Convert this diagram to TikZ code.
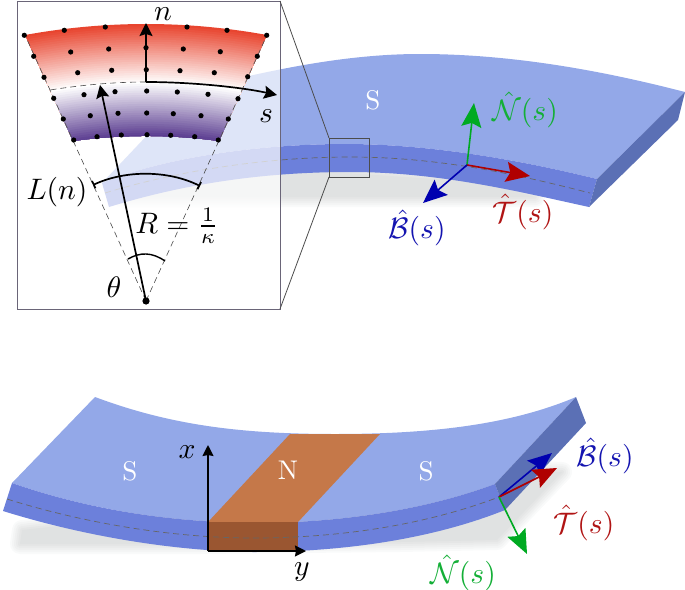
\documentclass[tikz,border=0pt]{standalone}
\usepackage{amsmath, amssymb}
\usepackage{tikz}
\usepackage{xcolor}
\usetikzlibrary{arrows.meta,calc}
\definecolor{topblue}{RGB}{147,168,232}
\definecolor{frontblue}{RGB}{108,128,219}
\definecolor{sideblue}{RGB}{91,112,181}
\definecolor{orangetop}{RGB}{197,120,73}
\definecolor{orangefront}{RGB}{154,86,49}
\definecolor{shadowgray}{RGB}{224,226,226}
\definecolor{wedgered}{RGB}{232,69,47}
\definecolor{wedgepurple}{RGB}{90,60,144}
\definecolor{framegray}{RGB}{106,101,120}
\definecolor{frameN}{RGB}{0,170,34}
\definecolor{frameT}{RGB}{176,0,0}
\definecolor{frameB}{RGB}{0,0,176}
\definecolor{labelN}{RGB}{20,175,55}
\definecolor{labelT}{RGB}{176,20,20}
\definecolor{labelB}{RGB}{20,20,176}
\tikzset{
  lab/.style={scale=1.48,inner sep=0pt},
  strip label/.style={text=white,scale=1.35,inner sep=0pt},
  black arrow/.style={line width=0.85pt,-{Stealth[length=6.5pt,width=6.5pt,inset=1pt]}},
  axis arrow/.style={line width=0.85pt,-{Stealth[length=5.5pt,width=5.5pt,inset=0.5pt]}},
  frame arrow/.style={line width=0.8pt,-{Stealth[length=12pt,width=10pt,inset=2pt]}},
  thin dash/.style={densely dashed,line width=0.3pt,draw=black!70},
  zoom line/.style={line width=0.4pt,draw=black!70},
  mid dash/.style={densely dashed,line width=0.35pt,draw=black!60},
}
% one slice of the wedge, from the arc at height #1 down to the lowest arc
\newcommand{\wedgeslice}[2]{%
  \pgfmathsetmacro{\lx}{25+48*#1}
  \pgfmathsetmacro{\ly}{35+106*#1}
  \pgfmathsetmacro{\cx}{\lx+2/3*(146-\lx)}
  \pgfmathsetmacro{\cy}{\ly+4/3*(-11+5*#1)}
  \fill[#2] (\lx,\ly) .. controls (\cx,\cy) and (292-\cx,\cy) .. (292-\lx,\ly)
    -- (219,141) .. controls (170.3,134.3) and (121.7,134.3) .. (73,141) -- cycle;
}
\begin{document}
\begin{tikzpicture}[x=0.5pt,y=-0.5pt]
  \useasboundingbox (0,0) rectangle (685,589);

  % Upper strip: shadow
  \foreach \w/\c in {10/18,8/35,6/52,4/68,2/85}
    \filldraw[shadowgray!\c!white,line width=\w pt,line join=round]
      (122,194) -- (122,197) -- (535,197) -- (480,182) -- (300,170) -- cycle;
  \fill[shadowgray] (122,194) -- (122,197) -- (535,197) -- (480,182) -- (300,170) -- cycle;

  % Upper strip: surfaces
  \fill[topblue] (102,183) -- (190,90) .. controls (270,70) and (345,54) .. (420,54)
    .. controls (510,54) and (600,70) .. (685,92) -- (597,179)
    .. controls (520,160) and (430,144) .. (345,144) .. controls (270,144) and (170,155) .. (102,183) -- cycle;
  \fill[frontblue] (102,183) .. controls (170,155) and (270,144) .. (345,144)
    .. controls (430,144) and (520,160) .. (597,179) -- (589,207)
    .. controls (520,192) and (440,172) .. (350,172) .. controls (270,172) and (190,182) .. (109,207) -- cycle;
  \fill[sideblue] (597,179) -- (685,92) -- (678,120) -- (589,207) -- cycle;
  \draw[mid dash] (105,193) .. controls (180,170) and (270,157) .. (350,157) .. controls (440,157) and (520,175) .. (590,193);

  % Zoomed box
  \coordinate (boxTL) at (329,138);
  \coordinate (boxBL) at (329,177);
  \coordinate (insetTR) at (280,1);
  \coordinate (insetBR) at (280,309);
  \fill[white,opacity=0.7] (17,1) rectangle (280,309);
  \draw[line width=0.5pt,draw=framegray] (17,1) rectangle (280,309);
  \draw[line width=0.5pt,draw=black!70] (boxTL) rectangle (369,177);
  \draw[zoom line] (insetTR) -- (boxTL);
  \draw[zoom line] (insetBR) -- (boxBL);

  % Wedge: red part, then purple part
  \foreach \i in {0,...,26}{
    \pgfmathsetmacro{\u}{\i/50}
    \pgfmathsetmacro{\p}{100*(1-\i/26)}
    \wedgeslice{\u}{wedgered!\p!white}
  }
  \foreach \i in {27,...,50}{
    \pgfmathsetmacro{\u}{\i/50}
    \pgfmathsetmacro{\p}{100*(\i-26)/24}
    \wedgeslice{\u}{wedgepurple!\p!white}
  }

  % Wedge: construction lines
  \coordinate (center) at (146,301);
  \coordinate (cornerL) at (25,35);
  \coordinate (cornerR) at (267,35);
  \coordinate (midC) at (146,82);
  \coordinate (midL) at (50,90);
  \coordinate (nTip) at (146,23);
  \coordinate (sTip) at (277,95);
  \coordinate (rTip) at (100,85);
  \draw[thin dash] (center) -- (cornerL);
  \draw[thin dash] (center) -- (cornerR);
  \draw[thin dash] (midC) .. controls (114,82) and (82,85) .. (midL);

  % Wedge: dots
  \foreach \x/\y in {24.3/35.3,64.3/30.3,105.3/27,187/27,227/30.3,266.7/35.3,
      33.7/56.3,70.7/52,108.7/49,146/47.7,183.3/49,220.3/51.7,257.3/56.3,
      44/77.3,77.7/72.7,111.7/70.3,146.3/69.7,180/70.7,214.3/72.7,247.7/76.7,
      53.7/98.3,84/94.7,115/91.7,146.7/91,177.3/92,208/94.3,238/98.7,
      63.3/119,90.3/115.7,118/113.3,146.7/113,173.3/113.7,201/115.7,228.3/119,
      73.7/140,97/136.7,121.3/135,147/134.7,170.7/135.3,194.7/136.7,218.3/140}
    \fill (\x,\y) circle (1.3pt);
  \fill (center) circle (1.8pt);

  % Wedge: arrows and arcs
  \draw[black arrow] (midC) -- (nTip);
  \draw[black arrow] (midC) .. controls (190,82) and (240,87) .. (sTip);
  \draw[black arrow] (center) -- (rTip);
  \coordinate (lenL) at (93,185);
  \coordinate (lenR) at (200,186);
  \coordinate (angL) at (128,259);
  \coordinate (angR) at (165,261);
  \draw[line width=0.85pt,{Bar[width=4pt]}-{Bar[width=4pt]}] (lenL) .. controls (125,170) and (168,170) .. (lenR);
  \draw[line width=0.7pt] (angL) .. controls (140,252) and (152,252) .. (angR);

  \node[lab] (nLabel) at (163,14) {$n$};
  \node[lab] (sLabel) at (266,116) {$s$};
  \node[lab] (lenLabel) at (57,192) {$L(n)$};
  \node[lab] (radLabel) at (177,226) {$R=\frac{1}{\kappa}$};
  \node[lab] (angLabel) at (114,287) {$\theta$};

  % Upper strip: local frame
  \node[strip label] (stripS) at (373,100) {S};
  \coordinate (upO) at (467,165);
  \coordinate (upN) at (474,103);
  \coordinate (upT) at (530,176);
  \coordinate (upB) at (423,203);
  \draw[frame arrow,draw=frameN,fill=frameN] (upO) -- (upN);
  \draw[frame arrow,draw=frameT,fill=frameT] (upO) -- (upT);
  \draw[frame arrow,draw=frameB,fill=frameB] (upO) -- (upB);
  \node[lab,text=labelN] (upNLabel) at (525,110) {$\hat{\mathcal{N}}(s)$};
  \node[lab,text=labelT] (upTLabel) at (523,212) {$\hat{\mathcal{T}}(s)$};
  \node[lab,text=labelB] (upBLabel) at (417,228) {$\hat{\mathcal{B}}(s)$};

  % Lower strip: shadow
  \foreach \w/\c in {10/18,8/35,6/52,4/68,2/85}
    \filldraw[shadowgray!\c!white,line width=\w pt,line join=round]
      (22,530) -- (20,544) -- (200,544) -- (400,542) -- (497,540) -- (562,472) -- (520,470) -- (300,500) -- cycle;
  \fill[shadowgray] (22,530) -- (20,544) -- (200,544) -- (400,542) -- (497,540) -- (562,472) -- (520,470) -- (300,500) -- cycle;

  % Lower strip: surfaces
  \fill[topblue] (95,397) .. controls (170,425) and (240,434) .. (335,434)
    .. controls (430,434) and (510,425) .. (576,397) -- (495,484)
    .. controls (425,510) and (340,523) .. (253,523) .. controls (170,522) and (90,510) .. (12,483) -- cycle;
  \fill[frontblue] (12,483) .. controls (90,510) and (170,522) .. (253,523)
    .. controls (340,523) and (425,510) .. (495,484) -- (505,510)
    .. controls (430,540) and (340,552) .. (253,552) .. controls (170,551) and (80,535) .. (3,511) -- cycle;
  \fill[sideblue] (495,484) -- (576,397) -- (586,423) -- (505,510) -- cycle;
  \fill[orangetop] (208,522) -- (290,434) -- (380,434) -- (298,522) -- cycle;
  \fill[orangefront] (208,522) rectangle (298,551);
  \draw[mid dash] (7,499) .. controls (80,522) and (170,538) .. (253,538) .. controls (340,538) and (425,525) .. (499,497);

  \node[strip label] (leftS) at (130,471) {S};
  \node[strip label] (midN) at (288,470) {N};
  \node[strip label] (rightS) at (426,471) {S};

  % Lower strip: axes
  \coordinate (axO) at (208,551);
  \coordinate (axX) at (208,445);
  \coordinate (axY) at (306,551);
  \draw[axis arrow] (axO) -- (axX);
  \draw[axis arrow] (axO) -- (axY);
  \node[lab] (xLabel) at (187,452) {$x$};
  \node[lab] (yLabel) at (302,572) {$y$};

  % Lower strip: local frame
  \coordinate (lowO) at (499,497);
  \coordinate (lowB) at (552,453);
  \coordinate (lowT) at (557,468);
  \coordinate (lowN) at (527,554);
  \draw[frame arrow,draw=frameB,fill=frameB] (lowO) -- (lowB);
  \draw[frame arrow,draw=frameT,fill=frameT] (lowO) -- (lowT);
  \draw[frame arrow,draw=frameN,fill=frameN] (lowO) -- (lowN);
  \node[lab,text=labelB] (lowBLabel) at (605,456) {$\hat{\mathcal{B}}(s)$};
  \node[lab,text=labelT] (lowTLabel) at (584,523) {$\hat{\mathcal{T}}(s)$};
  \node[lab,text=labelN] (lowNLabel) at (463,573) {$\hat{\mathcal{N}}(s)$};
\end{tikzpicture}
\end{document}
